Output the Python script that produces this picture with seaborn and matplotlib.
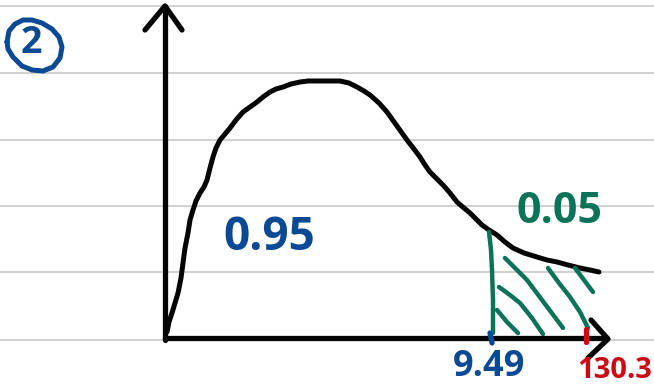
import matplotlib
matplotlib.use("Agg")
import matplotlib.pyplot as plt
import seaborn as sns

BLACK = "#050505"
BLUE = "#0a4a94"
GREEN = "#0a7358"
RED = "#cc0a14"

# ruled paper lines
rule_y = [6, 73, 140, 206, 272, 340]

# the hand drawn curve in pixels
curve_x = [167, 169, 172, 175, 178, 181, 183, 185, 188, 190, 193, 196, 200, 204, 207, 210, 213,
           216, 220, 225, 230, 236, 243, 250, 257, 263, 270, 276, 283, 291, 300, 308, 317, 328,
           340, 349, 357, 364, 370, 379, 387, 397, 407, 414, 420, 425, 430, 436, 443, 450, 457,
           464, 470, 476, 482, 489, 497, 505, 513, 524, 537, 547, 557, 568, 580, 590, 599]
curve_y = [332, 322, 313, 303, 293, 278, 263, 248, 233, 220, 210, 201, 193, 187, 180, 168, 157,
           148, 140, 134, 128, 120, 112, 107, 102, 97, 92, 89, 87, 84, 82, 81, 81, 81,
           81, 83, 87, 91, 95, 103, 112, 126, 140, 149, 157, 165, 172, 178, 185, 193, 202,
           208, 213, 219, 225, 230, 235, 242, 248, 253, 257, 260, 262, 265, 268, 270, 272]

# axes and arrow heads
y_axis_x = [165, 165]
y_axis_y = [340, 6]
y_head_x = [145, 165, 182]
y_head_y = [30, 6, 30]
x_axis_x = [165, 607]
x_axis_y = [338, 338]
x_head_x = [591, 608, 588]
x_head_y = [320, 339, 358]

# shaded tail strokes
tail_strokes = [
    ([489, 491, 492, 493, 493], [232, 250, 270, 300, 333]),
    ([497, 507, 518], [310, 322, 333]),
    ([499, 510, 520, 532, 543], [287, 295, 303, 318, 334]),
    ([505, 516, 527, 545, 563], [258, 269, 280, 304, 328]),
    ([548, 559, 570, 580, 588], [268, 283, 297, 312, 328]),
    ([575, 584, 593], [268, 280, 292]),
]

# tick marks on the x axis
blue_tick_x = [490, 492]
blue_tick_y = [333, 343]
red_tick_x = [586, 586]
red_tick_y = [329, 342]

# ring round the question number
ring_x = [7, 9, 15, 23, 32, 42, 52, 59, 62, 60, 53, 43, 32, 22, 13, 8, 7]
ring_y = [42, 31, 24, 20, 20, 23, 29, 37, 47, 58, 67, 71, 70, 66, 57, 49, 42]

labels = ["0.95", "0.05", "9.49", "130.3", "2"]
label_x = [269, 559, 489, 615, 31]
label_y = [237, 211, 367, 370, 43]
label_size = [33, 31, 26, 21, 27]
label_color = [BLUE, GREEN, BLUE, RED, BLUE]

sns.set_theme(style="white")
plt.rcParams["font.family"] = ["Open Sans", "DejaVu Sans"]

fig = plt.figure(figsize=(6.54, 3.89), dpi=100)
ax = fig.add_axes([0, 0, 1, 1])
ax.set_xlim(0, 654)
ax.set_ylim(389, 0)
ax.axis("off")


def stroke(x, y, color, lw):
    sns.lineplot(x=x, y=y, ax=ax, color=color, linewidth=lw, sort=False, estimator=None,
                 solid_capstyle="round", solid_joinstyle="round", legend=False)


for y in rule_y:
    ax.axhline(y, color="#d0d0d0", linewidth=1.4, zorder=0)

stroke(curve_x, curve_y, BLACK, 3.6)
for sx, sy in tail_strokes:
    stroke(sx, sy, GREEN, 3.2)
stroke(y_axis_x, y_axis_y, BLACK, 3.8)
stroke(y_head_x, y_head_y, BLACK, 3.8)
stroke(x_axis_x, x_axis_y, BLACK, 3.8)
stroke(x_head_x, x_head_y, BLACK, 3.8)
stroke(blue_tick_x, blue_tick_y, BLUE, 3.8)
stroke(red_tick_x, red_tick_y, RED, 3.8)
stroke(ring_x, ring_y, BLUE, 3.6)

for txt, x, y, size, col in zip(labels, label_x, label_y, label_size, label_color):
    ax.text(x, y, txt, color=col, fontsize=size, fontweight="bold", ha="center", va="center")

fig.savefig("out.png", dpi=100)
